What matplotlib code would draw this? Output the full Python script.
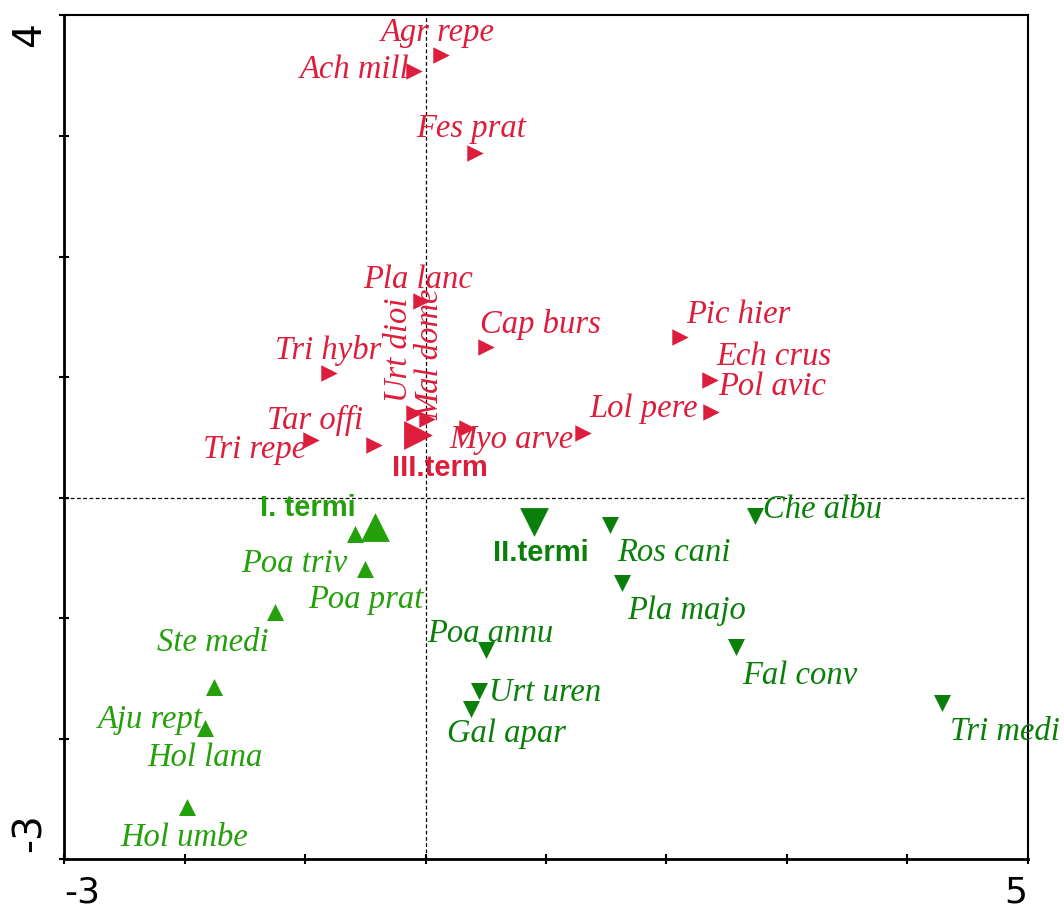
import matplotlib
matplotlib.use("Agg")
import matplotlib.pyplot as plt

# species scores (red, right triangles) - third term group
red_names = ["Agr repe", "Ach mill", "Fes prat", "Pla lanc", "Cap burs", "Tri hybr",
             "Urt dioi", "Mal dome", "Tri repe", "Tar offi", "Myo arve", "Pic hier",
             "Ech crus", "Pol avic", "Lol pere"]
red_x = [0.13, -0.10, 0.41, -0.04, 0.50, -0.80, -0.10, 0.01, -0.95, -0.43, 0.34,
         2.11, 2.36, 2.37, 1.31]
red_y = [3.67, 3.54, 2.86, 1.63, 1.25, 1.03, 0.70, 0.65, 0.48, 0.44, 0.58,
         1.33, 0.98, 0.71, 0.54]
red_lab_x = [0.10, -0.59, 0.38, -0.06, 0.95, -0.81, -0.22, 0.04, -1.42, -0.92, 0.71,
             2.60, 2.89, 2.88, 1.81]
red_lab_y = [3.86, 3.55, 3.06, 1.81, 1.44, 1.22, 1.23, 1.19, 0.40, 0.64, 0.48,
             1.52, 1.17, 0.92, 0.74]
red_lab_rot = [0, 0, 0, 0, 0, 0, 90, 90, 0, 0, 0, 0, 0, 0, 0]

# first term group (up triangles)
up_names = ["Poa triv", "Poa prat", "Ste medi", "Aju rept", "Hol lana", "Hol umbe"]
up_x = [-0.59, -0.50, -1.25, -1.76, -1.83, -1.98]
up_y = [-0.30, -0.59, -0.95, -1.57, -1.91, -2.57]
up_lab_x = [-1.09, -0.50, -1.77, -2.29, -1.83, -2.00]
up_lab_y = [-0.55, -0.85, -1.20, -1.84, -2.16, -2.82]

# second term group (down triangles)
down_names = ["Ros cani", "Pla majo", "Che albu", "Fal conv", "Tri medi",
              "Poa annu", "Urt uren", "Gal apar"]
down_x = [1.53, 1.63, 2.74, 2.58, 4.29, 0.50, 0.44, 0.38]
down_y = [-0.23, -0.71, -0.15, -1.24, -1.70, -1.26, -1.60, -1.75]
down_lab_x = [2.06, 2.17, 3.30, 3.11, 4.81, 0.54, 0.99, 0.67]
down_lab_y = [-0.46, -0.94, -0.10, -1.48, -1.94, -1.13, -1.62, -1.96]

# centroids of the sample classes
cent_names = ["III.term", "I. termi", "II.termi"]
cent_x = [-0.06, -0.42, 0.90]
cent_y = [0.52, -0.24, -0.20]
cent_lab_x = [0.12, -0.98, 0.96]
cent_lab_y = [0.25, -0.09, -0.46]

RED = "#dc1e3c"
GREEN1 = "#23a00a"
GREEN2 = "#0a800a"

fig = plt.figure(figsize=(10.64, 9.15), dpi=100)
ax = fig.add_axes([0.0605, 0.0609, 0.9053, 0.9222])

ax.axhline(0, color="black", lw=0.9, ls=(0, (3, 2)), zorder=1)
ax.axvline(0, color="black", lw=0.9, ls=(0, (3, 2)), zorder=1)

ital = dict(family="Liberation Serif", style="italic", fontsize=23.5,
            ha="center", va="center", zorder=4)
bold = dict(family="Liberation Sans", weight="bold", fontsize=21,
            ha="center", va="center", zorder=4)

ax.scatter(red_x, red_y, marker=">", s=140, color=RED, lw=0, zorder=3)
for n, lx, ly, r in zip(red_names, red_lab_x, red_lab_y, red_lab_rot):
    ax.text(lx, ly, n, color=RED, rotation=r, **ital)

ax.scatter(up_x, up_y, marker="^", s=150, color=GREEN1, lw=0, zorder=3)
for n, lx, ly in zip(up_names, up_lab_x, up_lab_y):
    ax.text(lx, ly, n, color=GREEN1, **ital)

ax.scatter(down_x, down_y, marker="v", s=150, color=GREEN2, lw=0, zorder=3)
for n, lx, ly in zip(down_names, down_lab_x, down_lab_y):
    ax.text(lx, ly, n, color=GREEN2, **ital)

cent_mark = [">", "^", "v"]
cent_col = [RED, GREEN1, GREEN2]
for i in range(3):
    ax.scatter(cent_x[i], cent_y[i], marker=cent_mark[i], s=430,
               color=cent_col[i], lw=0, zorder=3)
    ax.text(cent_lab_x[i], cent_lab_y[i], cent_names[i], color=cent_col[i], **bold)

ax.set_xlim(-3, 5)
ax.set_ylim(-3, 4)
ax.set_xticks(range(-3, 6))
ax.set_yticks(range(-3, 5))
ax.set_xticklabels(["-3"] + [""] * 7 + ["5"])
ax.set_yticklabels([])
ax.tick_params(direction="inout", length=7, width=1.5, labelsize=26, pad=8)

xl = ax.get_xticklabels()
xl[0].set_ha("left")
xl[-1].set_ha("right")

# y-axis end labels, rotated and pulled inside the tick range
ax.annotate("4", xy=(0, 4), xycoords=("axes fraction", "data"),
            xytext=(-11.5, -5), textcoords="offset points",
            rotation=90, ha="right", va="top", fontsize=28)
ax.annotate("-3", xy=(0, -3), xycoords=("axes fraction", "data"),
            xytext=(-11.5, 5), textcoords="offset points",
            rotation=90, ha="right", va="bottom", fontsize=28)

for s in ["left", "bottom"]:
    ax.spines[s].set_linewidth(2.0)
for s in ["top", "right"]:
    ax.spines[s].set_linewidth(1.5)

fig.savefig("out.png", dpi=100)
